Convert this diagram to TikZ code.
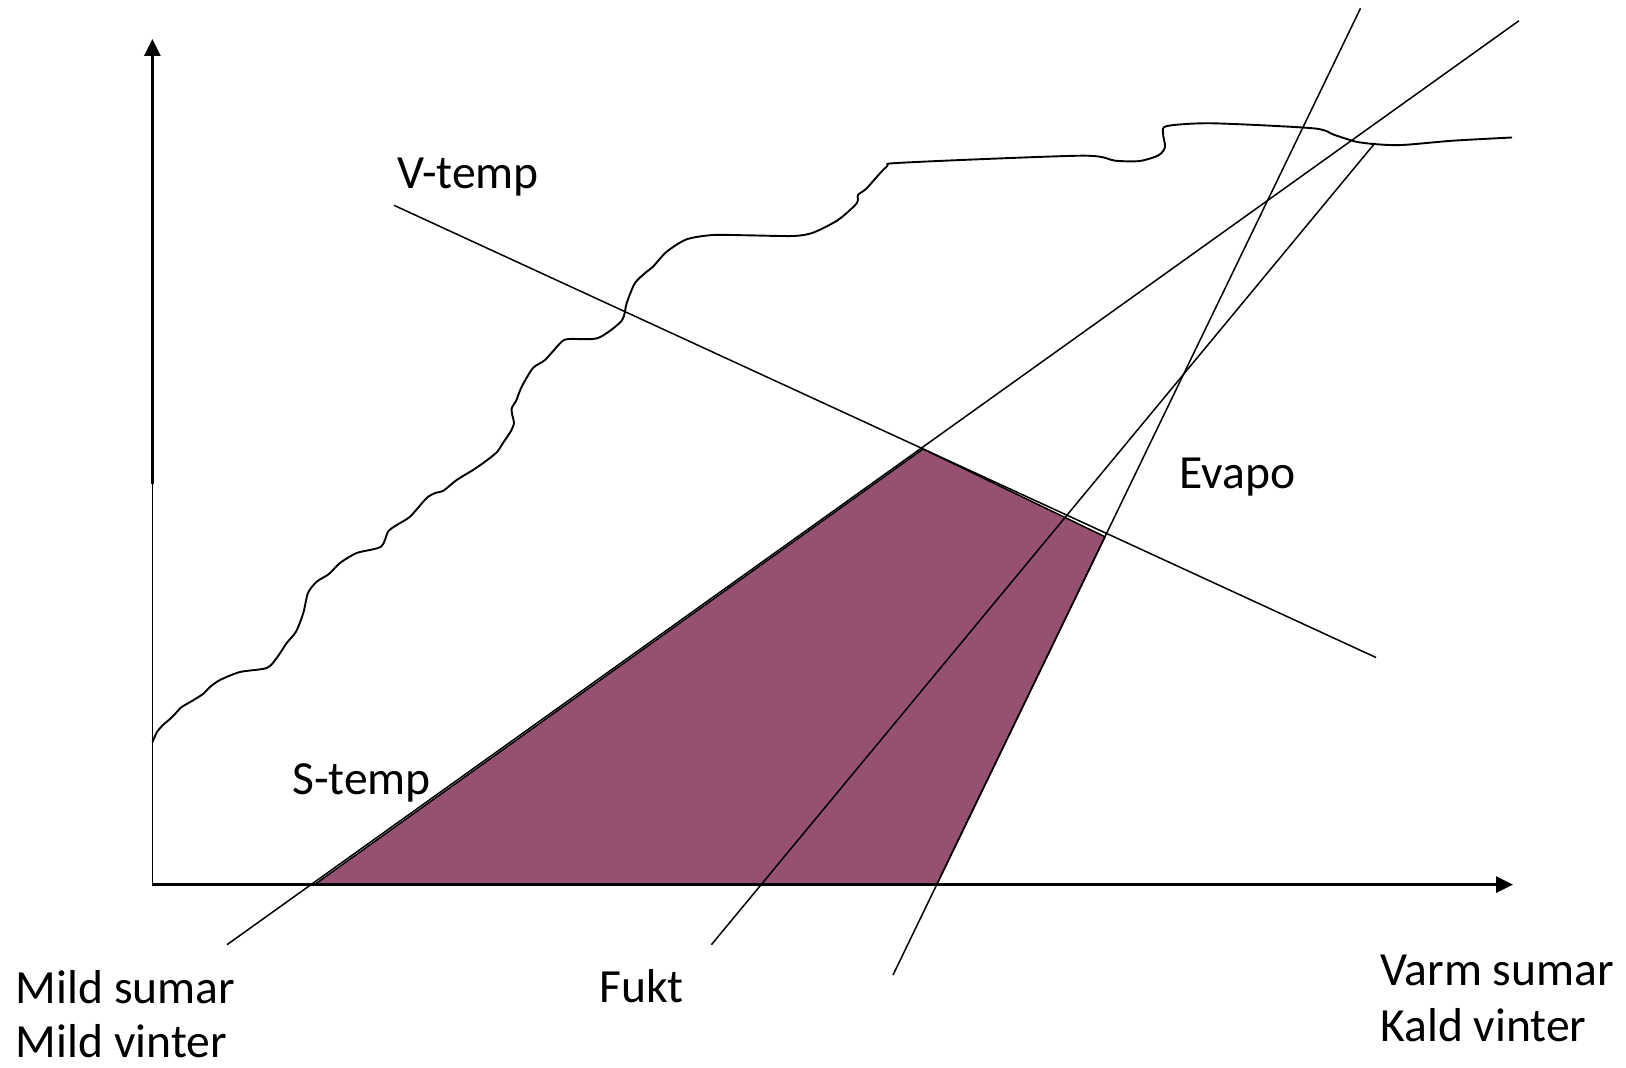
\documentclass[tikz,border=0pt]{standalone}
\usepackage{fontspec}
\setmainfont{Carlito}
\usetikzlibrary{arrows.meta}
\definecolor{plum}{RGB}{150,80,114}
\begin{document}
\begin{tikzpicture}[x=0.5pt,y=-0.5pt,
  thinline/.style={line width=0.75pt},
  curveline/.style={line width=0.95pt, line join=round},
  axisline/.style={line width=1.5pt},
  lbl/.style={anchor=base west, inner sep=0pt, font=\fontsize{23.8}{28}\selectfont},
  tip/.style={-{Triangle[length=8.5pt,width=8pt]}}]
\useasboundingbox (0,0) rectangle (1626,1068);
% named points
\coordinate (O) at (152.4,884.6);
\coordinate (ytop) at (152.4,39);
\coordinate (ymid) at (152.4,484);
\coordinate (xend) at (1513,884.6);
\coordinate (v1) at (394,205.3);
\coordinate (v2) at (1376,657.5);
\coordinate (s1) at (227,944.7);
\coordinate (s2) at (1519,20.7);
\coordinate (f1) at (711.4,944.7);
\coordinate (f2) at (1375,143);
\coordinate (e1) at (893,975);
\coordinate (e2) at (1360.5,8.3);
\coordinate (p1) at (314.5,884.6);
\coordinate (p2) at (923,449);
\coordinate (p3) at (1105,536.8);
\coordinate (p4) at (936.7,884.6);
% filled region
\filldraw[fill=plum, draw=black, thinline] (p1) -- (p2) -- (p3) -- (p4) -- cycle;
% axes
\draw[thinline] (O) -- (ymid);
\draw[axisline, tip] (ymid) -- (ytop);
\draw[axisline, tip] (O) -- (xend);
% lines
\draw[thinline] (v1) -- (v2);
\draw[thinline] (s1) -- (s2);
\draw[thinline] (f1) -- (f2);
\draw[thinline] (e1) -- (e2);
% wavy curve
\draw[curveline] plot[smooth, tension=0.45] coordinates {
(152.5,742) (157,732) (163,725) (170,719) (175,714) (181.7,707) (192,701) (203,694)
(210,687) (220,680) (240,672) (266.7,668) (276.7,658) (286.7,643) (296,631.7)
(303.3,613) (308,593) (316.7,581.7) (329,574) (340,563) (356.7,553) (381,546.7)
(388,531.7) (396.7,525) (410,516.7) (426.7,498) (436,492.7) (443,491) (456.7,480)
(473,470) (486,461) (497,452) (503,443) (511,431) (514,423) (512.5,416) (511.7,408.3)
(516,401) (521.7,386.7) (533,368) (545,360) (561.7,341.7) (570,339) (598,338)
(621.7,320.7) (626.7,303) (635,283) (646.7,271.7) (653,266.7) (666.7,251.7)
(686.7,239.3) (713,235) (746.7,235.3) (793,236) (813,232.7) (838,220) (856.7,203.3)
(858,195) (866.7,188.3) (886.7,166.7) (902.5,162.7) (1081,155.7) (1115,160.7)
(1140,161) (1159,155) (1165,146.7) (1163,133.3) (1167,126) (1212,123.3) (1313,128.3)
(1334.6,135) (1356,141.7) (1377,144.3) (1402.5,145) (1453,140.7) (1512,137.5)};
% labels
\node[lbl] (vtemp) at (397,189) {V-temp};
\node[lbl] (evapo) at (1179,488.5) {Evapo};
\node[lbl] (stemp) at (292,794.5) {S-temp};
\node[lbl] (fukt) at (599,1002) {Fukt};
\node[lbl] (ms) at (15.5,1003) {Mild sumar};
\node[lbl] (mv) at (15.5,1057) {Mild vinter};
\node[lbl] (vs) at (1380,985) {Varm sumar};
\node[lbl] (kv) at (1380,1041.5) {Kald vinter};
\end{tikzpicture}
\end{document}
